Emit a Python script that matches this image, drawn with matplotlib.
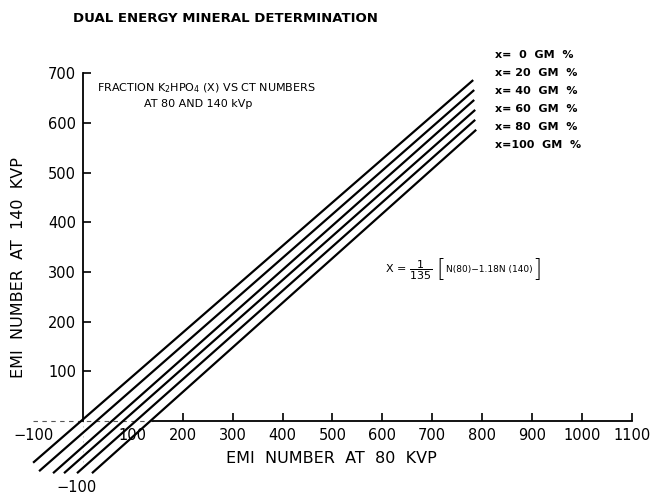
import matplotlib
matplotlib.use('Agg')
import matplotlib.pyplot as plt

# percentual de K2HPO4 e extremos de cada reta (N80, N140)
pct = [0, 20, 40, 60, 80, 100]
n80_ini = [-100, -88, -60, -38, -12, 18]
n140_ini = [-84, -101, -105, -105, -105, -105]
n80_fim = [782, 784, 784, 786, 786, 788]
n140_fim = [686, 666, 646, 626, 606, 586]

xticks = [-100, 100, 200, 300, 400, 500, 600, 700, 800, 900, 1000, 1100]
yticks = [100, 200, 300, 400, 500, 600, 700]

plt.rcParams['font.family'] = 'DejaVu Sans'
plt.rcParams['mathtext.fontset'] = 'dejavusans'

fig = plt.figure(figsize=(6.54, 4.95), dpi=100)
ax = fig.add_axes([0, 0, 1, 1])
ax.set_xlim(-166.3, 1144.3)
ax.set_ylim(-148.9, 847.1)

for i in range(len(pct)):
    ax.plot([n80_ini[i], n80_fim[i]], [n140_ini[i], n140_fim[i]],
            color='black', lw=1.6, solid_capstyle='butt', zorder=2)

# eixos
ax.spines['top'].set_visible(False)
ax.spines['right'].set_visible(False)
ax.spines['left'].set_position(('data', 0))
ax.spines['bottom'].set_position(('data', 0))
ax.spines['left'].set_bounds(0, 700)
ax.spines['bottom'].set_bounds(140, 1100)
ax.spines['left'].set_linewidth(1.3)
ax.spines['bottom'].set_linewidth(1.3)
ax.plot([-100, 140], [0, 0], color='#555555', lw=0.8, ls=(0, (4, 4)), zorder=1)
ax.plot([0, 0], [0, -100], color='#888888', lw=0.6, ls=(0, (1, 5)), zorder=1)

ax.set_xticks(xticks)
ax.set_xticklabels([str(v) if v > 0 else '\u2212' + str(-v) for v in xticks])
ax.set_yticks(yticks)
ax.tick_params(axis='both', direction='in', length=6, width=1.2, labelsize=10.5)
ax.tick_params(axis='x', pad=5)
ax.tick_params(axis='y', pad=5)
for t in ax.xaxis.get_major_ticks()[:2]:
    t.tick1line.set_visible(False)
for lab in ax.get_xticklabels():
    lab.set_bbox(dict(facecolor='white', edgecolor='none', pad=0.5))
    lab.set_zorder(5)

# textos
ax.text(-12, -133, '\u2212100', ha='center', va='center', fontsize=10.5)
ax.text(497, -76, 'EMI  NUMBER  AT  80  KVP', ha='center', va='center', fontsize=11.5)
ax.text(-130, 308, 'EMI  NUMBER  AT  140  KVP', ha='center', va='center', rotation=90, fontsize=11.5)
ax.text(285, 809, 'DUAL ENERGY MINERAL DETERMINATION', ha='center', va='center',
        fontsize=9.5, fontweight='semibold')
ax.text(248, 670, 'FRACTION K$_2$HPO$_4$ (X) VS CT NUMBERS', ha='center', va='center', fontsize=8)
ax.text(231, 638, 'AT 80 AND 140 kVp', ha='center', va='center', fontsize=8)

leg_y = [736, 700, 664, 628, 592, 556]
for p, yy in zip(pct, leg_y):
    ax.text(826, yy, f'x={p:>3}  GM  %', ha='left', va='center', fontsize=8, fontweight='bold')

# equacao
ax.text(606, 304, r'X = $\dfrac{1}{135}$', ha='left', va='center', fontsize=8)
ax.text(717, 304, '[', ha='center', va='center', fontsize=17, fontweight='light')
ax.text(814, 304, 'N(80)\u22121.18N (140)', ha='center', va='center', fontsize=6.5)
ax.text(910, 304, ']', ha='center', va='center', fontsize=17, fontweight='light')

plt.savefig('out.png', dpi=100)
